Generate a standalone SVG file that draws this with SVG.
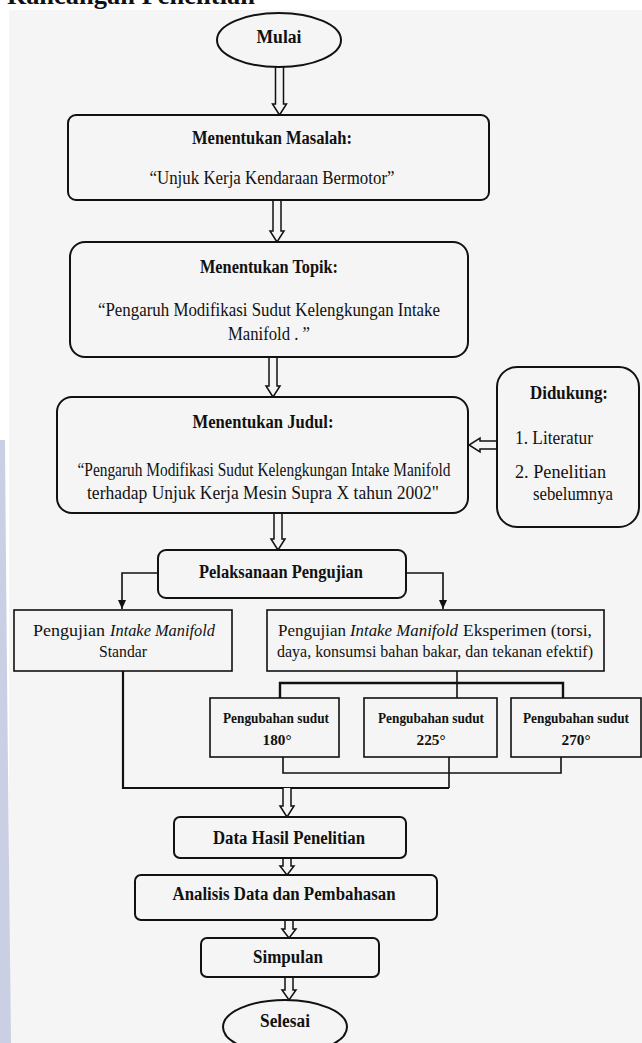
<svg xmlns="http://www.w3.org/2000/svg" width="642" height="1043" viewBox="0 0 642 1043">
<style>
text{font-family:"Liberation Serif","Times New Roman",serif;fill:#111}
.b{font-weight:bold}
.t16{font-size:18px}
.t15{font-size:17px}
.t13{font-size:14px}
.i{font-style:italic}
.box{fill:#f5f5f5;stroke:#111;stroke-width:2}
.rect{fill:#f5f5f5;stroke:#111;stroke-width:1.6}
.ha{fill:#f5f5f5;stroke:#111;stroke-width:1.5;stroke-linejoin:miter}
.ln{fill:none;stroke:#111;stroke-width:1.6}
</style>
<defs>
<marker id="ah" markerWidth="10" markerHeight="10" refX="9" refY="5" orient="auto" markerUnits="userSpaceOnUse">
<path d="M0,1 L9,5 L0,9 Z" fill="#111"/>
</marker>
</defs>
<rect x="0" y="0" width="642" height="1043" fill="#ffffff"/>
<text x="7" y="4" class="b" font-size="26" textLength="248" lengthAdjust="spacingAndGlyphs">Rancangan Penelitian</text>
<rect x="9" y="10" width="633" height="1033" fill="#f5f5f5"/>
<path d="M0,440 L5,440 Q7,700 11,1043 L0,1043 Z" fill="#cbcfe4"/>

<g id="connectors">
<path class="ha" d="M275.5,67 L275.5,104 L272.5,104 L279.5,115 L286.5,104 L283.5,104 L283.5,67"/>
<path class="ha" d="M273,200 L273,231 L270,231 L277,242 L284,231 L281,231 L281,200"/>
<path class="ha" d="M269,357 L269,386 L266,386 L273,397 L280,386 L277,386 L277,357"/>
<path class="ha" d="M274,513 L274,539 L271,539 L278,550 L285,539 L282,539 L282,513"/>
<path class="ha" d="M497,441 L480,441 L480,438 L469,445 L480,452 L480,449 L497,449"/>
<path class="ln" d="M158,573 L122,573 L122,609" marker-end="url(#ah)"/>
<path class="ln" d="M406,573 L443,573 L443,609" marker-end="url(#ah)"/>
<path class="ln" d="M457,671 L457,698"/>
<path class="ln" style="stroke-width:2.4" d="M280,698 L280,683 L563,683 L563,698"/>
<path class="ln" d="M283,757 L283,773 L561,773 L561,757"/>
<path class="ln" d="M449,757 L449,788"/>
<path class="ln" style="stroke-width:2.2" d="M123,671 L123,788 L449,788"/>
<path class="ha" d="M283,788 L283,806 L280,806 L287,817 L294,806 L291,806 L291,788"/>
<path class="ha" d="M283,858 L283,866 L280,866 L287,875 L294,866 L291,866 L291,858"/>
<path class="ha" d="M285,920 L285,929 L282,929 L289,938 L296,929 L293,929 L293,920"/>
<path class="ha" d="M285,977 L285,990 L282,990 L289,1000 L296,990 L293,990 L293,977"/>
</g>

<g id="mulai">
<ellipse cx="279" cy="40" rx="62" ry="27" class="box"/>
<text x="279" y="43" class="b t16" text-anchor="middle" textLength="45" lengthAdjust="spacingAndGlyphs">Mulai</text>
</g>

<g id="masalah">
<rect x="68" y="115" width="421" height="85" rx="8" class="box"/>
<text x="272" y="144" class="b t16" text-anchor="middle" textLength="160" lengthAdjust="spacingAndGlyphs">Menentukan Masalah:</text>
<text x="272" y="184" class="t16" text-anchor="middle" textLength="245" lengthAdjust="spacingAndGlyphs">“Unjuk Kerja Kendaraan Bermotor”</text>
</g>

<g id="topik">
<rect x="70" y="242" width="398" height="115" rx="15" class="box"/>
<text x="269" y="273" class="b t16" text-anchor="middle" textLength="138" lengthAdjust="spacingAndGlyphs">Menentukan Topik:</text>
<text x="269" y="316" class="t16" text-anchor="middle" textLength="342" lengthAdjust="spacingAndGlyphs">“Pengaruh Modifikasi Sudut Kelengkungan Intake</text>
<text x="269" y="340" class="t16" text-anchor="middle" textLength="82" lengthAdjust="spacingAndGlyphs">Manifold . ”</text>
</g>

<g id="judul">
<rect x="57" y="397" width="411" height="116" rx="15" class="box"/>
<text x="263" y="428" class="b t16" text-anchor="middle" textLength="141" lengthAdjust="spacingAndGlyphs">Menentukan Judul:</text>
<text x="264" y="476" class="t16" text-anchor="middle" textLength="373" lengthAdjust="spacingAndGlyphs">“Pengaruh Modifikasi Sudut Kelengkungan Intake Manifold</text>
<text x="263" y="499" class="t16" text-anchor="middle" textLength="352" lengthAdjust="spacingAndGlyphs">terhadap Unjuk Kerja Mesin Supra X  tahun 2002"</text>
</g>

<g id="didukung">
<rect x="497" y="367" width="142" height="160" rx="20" class="box"/>
<text x="569" y="399" class="b t16" text-anchor="middle" textLength="78" lengthAdjust="spacingAndGlyphs">Didukung:</text>
<text x="515" y="444" class="t16" textLength="78" lengthAdjust="spacingAndGlyphs">1. Literatur</text>
<text x="515" y="478" class="t16" textLength="91" lengthAdjust="spacingAndGlyphs">2. Penelitian</text>
<text x="533" y="500" class="t16" textLength="80" lengthAdjust="spacingAndGlyphs">sebelumnya</text>
</g>

<g id="pelaksanaan">
<rect x="158" y="550" width="248" height="48" rx="8" class="box"/>
<text x="281" y="578" class="b t16" text-anchor="middle" textLength="164" lengthAdjust="spacingAndGlyphs">Pelaksanaan Pengujian</text>
</g>

<g id="standar">
<rect x="14" y="610" width="218" height="61" class="rect"/>
<text x="33" y="636" class="t15" textLength="72" lengthAdjust="spacingAndGlyphs">Pengujian</text>
<text x="110" y="636" class="t15 i" textLength="105" lengthAdjust="spacingAndGlyphs">Intake Manifold</text>
<text x="123" y="657" class="t15" text-anchor="middle" textLength="48" lengthAdjust="spacingAndGlyphs">Standar</text>
</g>

<g id="eksperimen">
<rect x="267" y="610" width="337" height="61" class="rect"/>
<text x="278" y="636" class="t15" textLength="68" lengthAdjust="spacingAndGlyphs">Pengujian</text>
<text x="350" y="636" class="t15 i" textLength="108" lengthAdjust="spacingAndGlyphs">Intake Manifold</text>
<text x="463" y="636" class="t15" textLength="129" lengthAdjust="spacingAndGlyphs">Eksperimen (torsi,</text>
<text x="277" y="657" class="t15" textLength="316" lengthAdjust="spacingAndGlyphs">daya, konsumsi bahan bakar, dan tekanan efektif)</text>
</g>

<g id="sudut180">
<rect x="210" y="698" width="129" height="59" class="rect"/>
<text x="276" y="723" class="b t13" text-anchor="middle" textLength="106" lengthAdjust="spacingAndGlyphs">Pengubahan sudut</text>
<text x="277" y="745" class="b t13" text-anchor="middle" textLength="29" lengthAdjust="spacingAndGlyphs">180°</text>
</g>

<g id="sudut225">
<rect x="364" y="698" width="133" height="59" class="rect"/>
<text x="431" y="723" class="b t13" text-anchor="middle" textLength="106" lengthAdjust="spacingAndGlyphs">Pengubahan sudut</text>
<text x="431" y="745" class="b t13" text-anchor="middle" textLength="29" lengthAdjust="spacingAndGlyphs">225°</text>
</g>

<g id="sudut270">
<rect x="511" y="698" width="130" height="59" class="rect"/>
<text x="576" y="723" class="b t13" text-anchor="middle" textLength="106" lengthAdjust="spacingAndGlyphs">Pengubahan sudut</text>
<text x="576" y="745" class="b t13" text-anchor="middle" textLength="29" lengthAdjust="spacingAndGlyphs">270°</text>
</g>

<g id="datahasil">
<rect x="174" y="817" width="232" height="41" rx="6" class="box"/>
<text x="289" y="844" class="b t16" text-anchor="middle" textLength="152" lengthAdjust="spacingAndGlyphs">Data Hasil Penelitian</text>
</g>

<g id="analisis">
<rect x="135" y="875" width="302" height="45" rx="6" class="box"/>
<text x="284" y="900" class="b t16" text-anchor="middle" textLength="223" lengthAdjust="spacingAndGlyphs">Analisis Data dan Pembahasan</text>
</g>

<g id="simpulan">
<rect x="201" y="938" width="178" height="39" rx="6" class="box"/>
<text x="288" y="963" class="b t16" text-anchor="middle" textLength="70" lengthAdjust="spacingAndGlyphs">Simpulan</text>
</g>

<g id="selesai">
<ellipse cx="285" cy="1027" rx="62" ry="27" class="box"/>
<text x="285" y="1027" class="b t16" text-anchor="middle" textLength="50" lengthAdjust="spacingAndGlyphs">Selesai</text>
</g>
</svg>
